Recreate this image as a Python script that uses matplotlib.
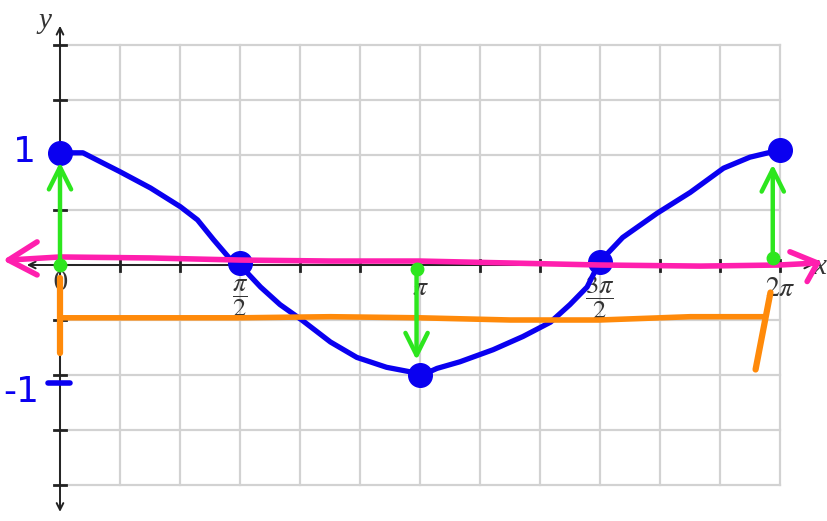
import numpy as np
import matplotlib.pyplot as plt

plt.rcParams['mathtext.fontset'] = 'stix'

U = np.pi / 6  # one grid column

# hand drawn blue curve (x in radians)
curve_x = [0.02, 0.20, 0.35, 0.52, 0.79, 1.05, 1.20, 1.34, 1.48, 1.57, 1.75, 1.92,
           2.11, 2.36, 2.59, 2.85, 3.05, 3.14, 3.29, 3.49, 3.78, 4.04, 4.28, 4.45,
           4.60, 4.71, 4.91, 5.21, 5.50, 5.79, 6.02, 6.30]
curve_y = [1.02, 1.02, 0.94, 0.85, 0.70, 0.53, 0.41, 0.23, 0.06, 0.00, -0.20, -0.36,
           -0.50, -0.70, -0.84, -0.93, -0.97, -1.01, -0.94, -0.88, -0.77, -0.65, -0.52, -0.36,
           -0.20, 0.03, 0.25, 0.47, 0.66, 0.88, 0.98, 1.05]
dot_x = [0.0, np.pi / 2, np.pi, 3 * np.pi / 2, 2 * np.pi]
dot_y = [1.02, 0.02, -1.0, 0.03, 1.05]

# magenta midline with arrow barbs
mid_x = [-0.45, 0.0, 0.79, 1.57, 2.36, 3.14, 3.93, 4.71, 5.59, 6.28, 6.61]
mid_y = [0.045, 0.073, 0.064, 0.045, 0.036, 0.036, 0.018, 0.0, -0.01, 0.0, 0.018]
mid_left_barb_x = [-0.20, -0.45, -0.20]
mid_left_barb_y = [0.21, 0.045, -0.09]
mid_right_barb_x = [6.37, 6.61, 6.52]
mid_right_barb_y = [0.12, 0.018, -0.15]

# orange bracket
orange_x = [0.0, 0.79, 1.57, 2.36, 3.14, 3.93, 4.71, 5.50, 6.14]
orange_y = [-0.48, -0.48, -0.48, -0.47, -0.48, -0.50, -0.50, -0.47, -0.47]
orange_left_x = [0.0, 0.0]
orange_left_y = [-0.12, -0.80]
orange_right_x = [6.20, 6.07]
orange_right_y = [-0.25, -0.95]

# green amplitude arrows: (x, y_start, y_end)
green_arrows = [(0.0, 0.0, 0.96), (np.pi - 0.03, -0.04, -0.89), (6.22, 0.06, 0.94)]

# axis tick labels
tick_pos = [0.0, np.pi / 2, np.pi, 3 * np.pi / 2, 2 * np.pi]
tick_txt = ['0', r'$\dfrac{\pi}{2}$', r'$\pi$', r'$\dfrac{3\pi}{2}$', r'$2\pi$']
tick_lab_y = [-0.17, -0.30, -0.21, -0.30, -0.22]

fig = plt.figure(figsize=(8.28, 5.21), dpi=100)
ax = fig.add_axes([0, 0, 1, 1])
ax.set_xlim(-U, 12.8 * U)
ax.set_ylim(-256 / 110, 265 / 110)
ax.axis('off')

# grid
for i in range(13):
    ax.plot([i * U, i * U], [-2, 2], color='#d2d2d2', lw=1.6, zorder=1)
for j in np.arange(-2, 2.01, 0.5):
    ax.plot([0, 12 * U], [j, j], color='#d2d2d2', lw=1.6, zorder=1)

# axes with arrows
ax.annotate('', xy=(-0.6 * U, 0), xytext=(12.6 * U, 0),
            arrowprops=dict(arrowstyle='<->', lw=1.4, color='#222222', mutation_scale=12), zorder=2)
ax.annotate('', xy=(0, 2.2), xytext=(0, -2.27),
            arrowprops=dict(arrowstyle='<->', lw=1.4, color='#222222', mutation_scale=12), zorder=2)
for i in range(1, 13):
    ax.plot([i * U, i * U], [-0.05, 0.05], color='#222222', lw=2, zorder=2)
for j in np.arange(-2, 2.01, 0.5):
    if j != 0:
        ax.plot([-0.1 * U, 0.1 * U], [j, j], color='#222222', lw=2, zorder=2)

for p, t, yy in zip(tick_pos, tick_txt, tick_lab_y):
    ax.text(p, yy, t, ha='center', va='center', fontsize=19 if 'frac' in t else 20,
            color='#333333', family='STIXGeneral', zorder=3)
ax.text(12.55 * U, -0.02, 'x', fontsize=21, style='italic', family='Liberation Serif',
        color='#333333', ha='left', va='center')
ax.text(-0.25 * U, 2.22, 'y', fontsize=21, style='italic', family='Liberation Serif',
        color='#333333', ha='center', va='center')

# blue curve and points
ax.plot(curve_x, curve_y, color='#0a00f0', lw=3.8, solid_capstyle='round', zorder=5)
ax.plot(dot_x, dot_y, 'o', color='#0a00f0', ms=17, zorder=5)

# blue handwritten labels
ax.text(-0.6 * U, 1.03, '1', color='#0a00f0', fontsize=26, ha='center', va='center', zorder=6)
ax.text(-0.95 * U, -1.15, '-1', color='#0a00f0', fontsize=26, ha='left', va='center', zorder=6)
ax.plot([-0.2 * U, 0.17 * U], [-1.07, -1.07], color='#0a00f0', lw=4, solid_capstyle='round', zorder=6)

# orange bracket
ax.plot(orange_x, orange_y, color='#ff8a0a', lw=4, solid_capstyle='round', zorder=6)
ax.plot(orange_left_x, orange_left_y, color='#ff8a0a', lw=4.5, solid_capstyle='round', zorder=6)
ax.plot(orange_right_x, orange_right_y, color='#ff8a0a', lw=4.5, solid_capstyle='round', zorder=6)

# magenta midline
for xs, ys in [(mid_x, mid_y), (mid_left_barb_x, mid_left_barb_y), (mid_right_barb_x, mid_right_barb_y)]:
    ax.plot(xs, ys, color='#ff1fae', lw=4, solid_capstyle='round', solid_joinstyle='round', zorder=7)

# green arrows
for gx, y0, y1 in green_arrows:
    ax.annotate('', xy=(gx, y1), xytext=(gx, y0),
                arrowprops=dict(arrowstyle='->', lw=3.2, color='#2de61e', mutation_scale=40), zorder=8)
    ax.plot(gx, y0, 'o', color='#2de61e', ms=9, zorder=8)

fig.savefig('out.png', dpi=100)
